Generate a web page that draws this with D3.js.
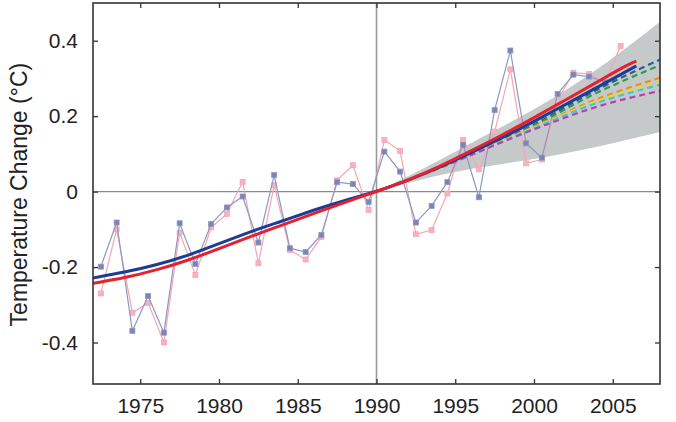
<!DOCTYPE html>
<html>
<head>
<meta charset="utf-8">
<script src="https://cdn.jsdelivr.net/npm/d3@7"></script>
<style>
  body { margin: 0; background: #fff; }
  svg { display: block; font-family: "Liberation Sans", Arial, sans-serif; }
</style>
</head>
<body>
<svg id="chart" width="676" height="422"></svg>
<script>
// observed yearly anomalies (plotted at mid-year)
const obsYears = [1972, 1973, 1974, 1975, 1976, 1977, 1978, 1979, 1980, 1981, 1982, 1983, 1984, 1985, 1986, 1987, 1988,
  1989, 1990, 1991, 1992, 1993, 1994, 1995, 1996, 1997, 1998, 1999, 2000, 2001, 2002, 2003, 2004, 2005];
const blueObs = [-0.199, -0.082, -0.369, -0.277, -0.374, -0.084, -0.192, -0.086, -0.042, -0.013, -0.135, 0.044, -0.150,
  -0.160, -0.115, 0.025, 0.020, -0.027, 0.106, 0.053, -0.082, -0.038, 0.025, 0.124, -0.015, 0.216, 0.374, 0.128, 0.090,
  0.259, 0.310, 0.305, 0.290];
const pinkObs = [-0.270, -0.100, -0.321, -0.295, -0.400, -0.109, -0.221, -0.095, -0.059, 0.026, -0.190, 0.017, -0.155,
  -0.180, -0.120, 0.030, 0.070, -0.049, 0.137, 0.108, -0.113, -0.102, -0.005, 0.137, 0.059, 0.159, 0.324, 0.075, 0.085,
  0.243, 0.315, 0.312, 0.290, 0.386];

// smoothed curves
const smoothYears = [1972, 1974, 1976, 1978, 1980, 1982, 1984, 1986, 1988, 1990, 1992, 1994, 1996, 1998, 2000, 2002, 2004, 2006, 2006.5];
const blueSmooth = [-0.229, -0.214, -0.195, -0.17, -0.138, -0.106, -0.078, -0.049, -0.023, 0.0, 0.03, 0.064, 0.103, 0.143, 0.186, 0.231, 0.276, 0.322, 0.333];
const redSmooth = [-0.243, -0.229, -0.208, -0.183, -0.151, -0.119, -0.089, -0.058, -0.028, 0.0, 0.03, 0.066, 0.108, 0.15, 0.196, 0.243, 0.29, 0.338, 0.346];

// projection range (shaded)
const bandYears = [1990, 1993, 1996, 2000, 2004, 2008];
const bandUpper = [0, 0.06, 0.13, 0.215, 0.32, 0.45];
const bandLower = [0, 0.035, 0.062, 0.085, 0.118, 0.158];

// scenario projections (dashed)
const projYears = [1990, 1995, 2000, 2004, 2008];
const projections = [
  {name: "teal", color: "#24628c", values: [0, 0.08, 0.178, 0.27, 0.35]},
  {name: "green", color: "#2e9e4a", values: [0, 0.08, 0.175, 0.262, 0.335]},
  {name: "orange", color: "#f08c1e", values: [0, 0.08, 0.172, 0.245, 0.302]},
  {name: "yellow", color: "#e6dc28", values: [0, 0.08, 0.17, 0.24, 0.291]},
  {name: "cyan", color: "#3cc4e0", values: [0, 0.08, 0.168, 0.235, 0.283]},
  {name: "magenta", color: "#b443b4", values: [0, 0.08, 0.165, 0.225, 0.267]}
];

const xTicks = [1975, 1980, 1985, 1990, 1995, 2000, 2005];
const yTicks = [-0.4, -0.2, 0, 0.2, 0.4];

const margin = {left: 93, right: 16, top: 3, bottom: 38};
const W = 676, H = 422;
const svg = d3.select("#chart");

const x = d3.scaleLinear().domain([1972, 2008]).range([margin.left, W - margin.right]);
const y = d3.scaleLinear().domain([-0.51, 0.5]).range([H - margin.bottom, margin.top]);

const plot = svg.append("g");
svg.append("clipPath").attr("id", "clip").append("rect")
  .attr("x", x(1972)).attr("y", y(0.5)).attr("width", x(2008) - x(1972)).attr("height", y(-0.51) - y(0.5));
plot.attr("clip-path", "url(#clip)");

// shaded band
const band = d3.area()
  .x((d, i) => x(bandYears[i]))
  .y0((d, i) => y(bandLower[i]))
  .y1((d, i) => y(bandUpper[i]))
  .curve(d3.curveBasis);
plot.append("path").datum(bandYears).attr("d", band).attr("fill", "#c6c9c9");

// reference lines
plot.append("line").attr("x1", x(1972)).attr("x2", x(2008)).attr("y1", y(0)).attr("y2", y(0))
  .attr("stroke", "#8a8a8a").attr("stroke-width", 1.4);
plot.append("line").attr("x1", x(1990)).attr("x2", x(1990)).attr("y1", y(0.5)).attr("y2", y(-0.51))
  .attr("stroke", "#9a9a9a").attr("stroke-width", 1.6);

// observations
function obsLayer(values, lineColor, fillColor) {
  const pts = values.map((v, i) => ({yr: obsYears[i] + 0.5, v: v}));
  plot.append("path").datum(pts)
    .attr("d", d3.line().x(d => x(d.yr)).y(d => y(d.v)))
    .attr("fill", "none").attr("stroke", lineColor).attr("stroke-width", 1.2);
  plot.selectAll(null).data(pts).enter().append("rect")
    .attr("x", d => x(d.yr) - 2.5).attr("y", d => y(d.v) - 2.5)
    .attr("width", 5).attr("height", 5)
    .attr("fill", fillColor).attr("stroke", lineColor).attr("stroke-width", 0.8);
}
obsLayer(pinkObs, "#f4a6b2", "#f6b3be");
obsLayer(blueObs, "#8e97c4", "#7a84b6");

// scenario projections
projections.forEach(p => {
  plot.append("path").datum(p.values)
    .attr("d", d3.line().x((d, i) => x(projYears[i])).y(d => y(d)).curve(d3.curveMonotoneX))
    .attr("fill", "none").attr("stroke", p.color).attr("stroke-width", 2.2)
    .attr("stroke-dasharray", "6,4");
});

// smoothed series
const smoothLine = d3.line().x((d, i) => x(smoothYears[i])).y(d => y(d)).curve(d3.curveBasis);
plot.append("path").datum(blueSmooth).attr("d", smoothLine)
  .attr("fill", "none").attr("stroke", "#1c3c96").attr("stroke-width", 3);
plot.append("path").datum(redSmooth).attr("d", smoothLine)
  .attr("fill", "none").attr("stroke", "#e3222e").attr("stroke-width", 3);

// frame + inward ticks
const frame = svg.append("g").attr("stroke", "#333").attr("fill", "none");
frame.append("rect").attr("x", x(1972)).attr("y", y(0.5))
  .attr("width", x(2008) - x(1972)).attr("height", y(-0.51) - y(0.5)).attr("stroke-width", 1.6);

const axisStyle = g => {
  g.select(".domain").remove();
  g.selectAll(".tick line").attr("stroke", "#333").attr("stroke-width", 1.3);
  g.selectAll(".tick text").attr("fill", "#222").attr("font-size", 21);
};

// hyphen-minus like the original labels
const yFmt = d => d === 0 ? "0" : d.toFixed(1);

svg.append("g").attr("transform", `translate(0,${y(-0.51)})`)
  .call(d3.axisBottom(x).tickValues(xTicks).tickFormat(d3.format("d")).tickSizeInner(-5).tickPadding(14))
  .call(axisStyle);
svg.append("g").attr("transform", `translate(0,${y(0.5)})`)
  .call(d3.axisTop(x).tickValues(xTicks).tickFormat("").tickSizeInner(-5))
  .call(axisStyle);
svg.append("g").attr("transform", `translate(${x(1972)},0)`)
  .call(d3.axisLeft(y).tickValues(yTicks).tickFormat(yFmt).tickSizeInner(-5).tickPadding(15))
  .call(axisStyle);
svg.append("g").attr("transform", `translate(${x(2008)},0)`)
  .call(d3.axisRight(y).tickValues(yTicks).tickFormat("").tickSizeInner(-5))
  .call(axisStyle);

svg.append("text")
  .attr("transform", `translate(27,${y(0) + 3}) rotate(-90)`)
  .attr("text-anchor", "middle")
  .attr("font-size", 23).attr("fill", "#222")
  .text("Temperature Change (°C)");
</script>
</body>
</html>
